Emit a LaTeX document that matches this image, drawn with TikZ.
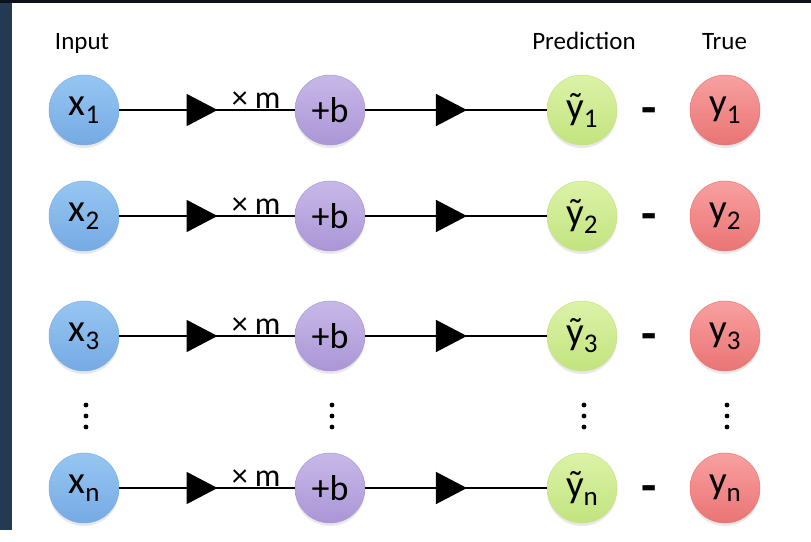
\documentclass[tikz,border=0pt]{standalone}
\usepackage{fontspec}
\setmainfont{Carlito}
\usetikzlibrary{positioning,shadows,decorations.markings,arrows.meta}

\definecolor{slide}{RGB}{35,58,82}
\definecolor{slidetop}{RGB}{12,18,28}
\definecolor{inblueL}{RGB}{150,198,242}
\definecolor{inblueD}{RGB}{118,170,228}
\definecolor{biasL}{RGB}{200,184,232}
\definecolor{biasD}{RGB}{170,150,214}
\definecolor{predL}{RGB}{220,242,168}
\definecolor{predD}{RGB}{194,228,126}
\definecolor{trueL}{RGB}{248,160,160}
\definecolor{trueD}{RGB}{234,116,116}

\newcommand{\lowidx}[1]{\raisebox{-8pt}{\fontsize{27}{29}\selectfont #1}}

\tikzset{
  unit/.style={circle, minimum size=70pt, inner sep=0pt, line width=0.5pt,
    drop shadow={shadow xshift=0pt, shadow yshift=-3pt, opacity=0.18},
    font=\fontsize{39}{41}\selectfont},
  inputunit/.style={unit, top color=inblueL, bottom color=inblueD, draw=inblueD},
  biasunit/.style={unit, top color=biasL, bottom color=biasD, draw=biasD},
  predunit/.style={unit, top color=predL, bottom color=predD, draw=predD},
  trueunit/.style={unit, top color=trueL, bottom color=trueD, draw=trueD},
  heading/.style={anchor=base, font=\fontsize{25}{27}\selectfont},
  weight/.style={inner sep=1pt, font=\fontsize{32}{34}\selectfont},
  minus/.style={anchor=base, inner sep=0pt, font=\fontsize{50}{52}\selectfont\bfseries},
  flow/.style={line width=1.8pt, postaction={decorate},
    decoration={markings, mark=at position 0.56 with {\arrow{Triangle[length=31pt,width=32pt]}}}}
}

\begin{document}
\begin{tikzpicture}[x=1pt, y=-1pt]
  \useasboundingbox (0,0) rectangle (811,541);
  % slide background
  \fill[white] (0,0) rectangle (811,541);
  \fill[slide] (0,0) rectangle (12,530);
  \fill[slidetop] (0,0) rectangle (811,3);

  % headings
  \node[heading] (input) at (82,49) {Input};
  \node[heading] (prediction) at (584,49) {Prediction};
  \node[heading] (true) at (724.5,49) {True};

  % one row per sample
  \foreach \i/\yy in {1/110, 2/216, 3/336, n/488} {
    \node[inputunit] (x\i) at (84,\yy) {x\lowidx{\i}};
    \node[biasunit, font=\fontsize{36}{38}\selectfont] (b\i) at (330,\yy) {+b};
    \node[predunit] (p\i) at (582,\yy) {ỹ\lowidx{\i}};
    \node[trueunit] (t\i) at (725,\yy) {y\lowidx{\i}};
    \node[minus] (m\i) at (649,\yy+14) {-};
    \draw[flow] (x\i) -- (b\i) node[pos=0.78, above, weight] {× m};
    \draw[flow] (b\i) -- (p\i);
  }

  % vertical dots
  \foreach \cx in {86,332,584,727}
    \foreach \dy in {405,416,427}
      \fill (\cx,\dy) circle (2.4);
\end{tikzpicture}
\end{document}
